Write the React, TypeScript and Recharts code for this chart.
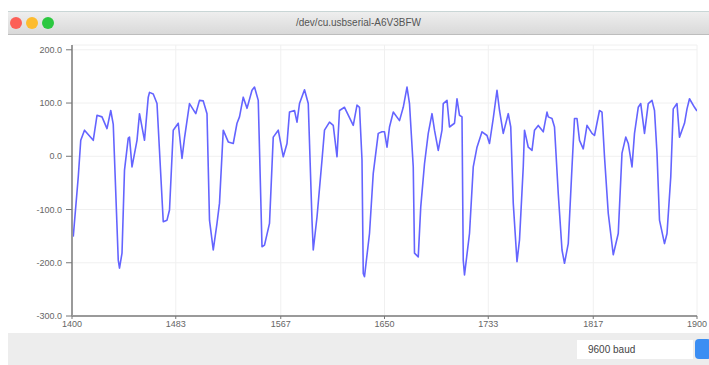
import React from "react";
import { LineChart, Line, XAxis, YAxis, CartesianGrid } from "recharts";

const sampleIndex = [
  1401, 1405, 1407, 1410, 1417, 1420, 1424, 1428, 1431, 1433, 1437, 1438, 1440, 1442, 1445, 1446, 1448, 1452, 1454, 1458,
  1461, 1462, 1465, 1468, 1473, 1476, 1478, 1481, 1485, 1488, 1490, 1494, 1499, 1502, 1505, 1508, 1510, 1513, 1516, 1518,
  1521, 1525, 1529, 1532, 1534, 1537, 1540, 1544, 1546, 1549, 1552, 1554, 1558, 1561, 1565, 1569, 1572, 1574, 1578, 1580,
  1582, 1586, 1589, 1592, 1593, 1596, 1600, 1602, 1606, 1609, 1612, 1614, 1618, 1625, 1628, 1630, 1632, 1633, 1634, 1638,
  1641, 1645, 1648, 1650, 1652, 1654, 1657, 1662, 1665, 1668, 1670, 1673, 1674, 1677, 1679, 1682, 1685, 1688, 1690, 1693,
  1696, 1697, 1700, 1702, 1706, 1708, 1710, 1712, 1713, 1714, 1718, 1721, 1724, 1728, 1732, 1734, 1737, 1740, 1742, 1745,
  1749, 1751, 1753, 1756, 1758, 1761, 1762, 1765, 1768, 1770, 1773, 1777, 1780, 1781, 1784, 1786, 1789, 1792, 1794, 1797,
  1800, 1802, 1804, 1806, 1809, 1812, 1816, 1818, 1822, 1824, 1826, 1829, 1833, 1837, 1840, 1843, 1845, 1848, 1850, 1853,
  1855, 1858, 1861, 1864, 1866, 1868, 1870, 1874, 1876, 1879, 1881, 1884, 1886, 1890, 1892, 1894, 1898, 1900,
];

const sensorValue = [
  -151, -39, 30, 49, 30, 77, 74, 52, 86, 60, -195, -210, -182, -26, 34, 36, -20, 30, 80, 30,
  111, 120, 117, 99, -123, -120, -101, 49, 62, -4, 34, 99, 80, 105, 104, 80, -120, -176, -126, -88,
  49, 27, 24, 62, 74, 111, 90, 124, 130, 105, -170, -167, -126, 36, 49, -1, 24, 83, 86, 64,
  99, 125, 99, -120, -176, -114, -7, 49, 64, 58, -1, 86, 92, 58, 96, 92, -7, -220, -226, -145,
  -32, 43, 46, 46, 17, 55, 83, 67, 92, 130, 99, -20, -182, -189, -95, -14, 43, 80, 49, 11,
  49, 99, 105, 55, 62, 108, 77, 74, -195, -223, -145, -20, 17, 46, 39, 24, 71, 124, 86, 43,
  80, 55, -88, -198, -157, -20, 49, 17, 11, 49, 58, 46, 83, 74, 71, 55, -70, -176, -201, -164,
  -20, 71, 71, 30, 14, 58, 43, 39, 86, 83, -1, -107, -185, -145, 6, 36, 24, -20, 43, 92,
  99, 43, 99, 105, 86, 6, -120, -164, -145, -39, 89, 99, 36, 62, 89, 108, 92, 85,
];

const xTicks = [1400, 1483, 1567, 1650, 1733, 1817, 1900];
const yTicks = [-300, -200, -100, 0, 100, 200];

const data = sampleIndex.map((s, i) => ({ s, v: sensorValue[i] }));

const font = "'Liberation Sans', 'DejaVu Sans', sans-serif";

export default function App() {
  return (
    <div style={{ position: "relative", width: 709, height: 365, background: "#fff", fontFamily: font, overflow: "hidden" }}>
      <style>{`body{margin:0}`}</style>
      {/* title bar */}
      <div
        style={{
          position: "absolute",
          left: 8,
          top: 11,
          width: 701,
          height: 24,
          background: "linear-gradient(#eeeeee, #d9d9d9)",
          borderTop: "1px solid #c9d6d6",
          borderBottom: "1px solid #bdbdbd",
          boxSizing: "border-box",
        }}
      >
        {[
          ["#fc5f57", 2],
          ["#fdbc2e", 18],
          ["#2bc840", 34],
        ].map(([c, l]) => (
          <div
            key={c as string}
            style={{
              position: "absolute",
              left: l as number,
              top: 5,
              width: 12,
              height: 12,
              borderRadius: 6,
              background: c as string,
            }}
          />
        ))}
        <div
          style={{
            position: "absolute",
            left: 0,
            right: 0,
            top: 5,
            textAlign: "center",
            fontSize: 10,
            color: "#555",
          }}
        >
          /dev/cu.usbserial-A6V3BFW
        </div>
      </div>
      {/* bottom bar */}
      <div style={{ position: "absolute", left: 8, top: 333, width: 701, height: 32, background: "#ededed" }}>
        <div
          style={{
            position: "absolute",
            left: 569,
            top: 7,
            width: 116,
            height: 19,
            background: "#fff",
            fontSize: 10,
            color: "#444",
            lineHeight: "19px",
            paddingLeft: 11,
            boxSizing: "border-box",
          }}
        >
          9600 baud
        </div>
        <div
          style={{
            position: "absolute",
            left: 687,
            top: 6,
            width: 16,
            height: 20,
            borderRadius: 4,
            background: "#3b8ef3",
          }}
        />
      </div>
      <div style={{ position: "absolute", left: 0, top: 0 }}>
        <LineChart
          width={709}
          height={365}
          data={data}
          margin={{ top: 45, right: 12, bottom: 29, left: 0 }}
        >
          <CartesianGrid stroke="#f0f0f0" strokeWidth={1} />
          <XAxis
            dataKey="s"
            type="number"
            domain={[1400, 1900]}
            ticks={xTicks}
            height={20}
            allowDataOverflow
            stroke="#9a9a9a"
            strokeWidth={2}
            tickSize={3}
            tick={{ fontSize: 9, fill: "#666", fontFamily: font }}
            tickLine={{ stroke: "#777", strokeWidth: 1 }}
          />
          <YAxis
            type="number"
            domain={[-300, 209]}
            ticks={yTicks}
            width={72}
            allowDataOverflow
            stroke="#9a9a9a"
            strokeWidth={2}
            tickSize={6}
            tickMargin={4}
            tickFormatter={(v: number) => v.toFixed(1)}
            tick={{ fontSize: 9, fill: "#666", fontFamily: font }}
            tickLine={{ stroke: "#777", strokeWidth: 1 }}
          />
          <Line
            type="linear"
            dataKey="v"
            stroke="#6464ff"
            strokeWidth={1.6}
            strokeLinejoin="round"
            dot={false}
            isAnimationActive={false}
          />
        </LineChart>
      </div>
    </div>
  );
}
